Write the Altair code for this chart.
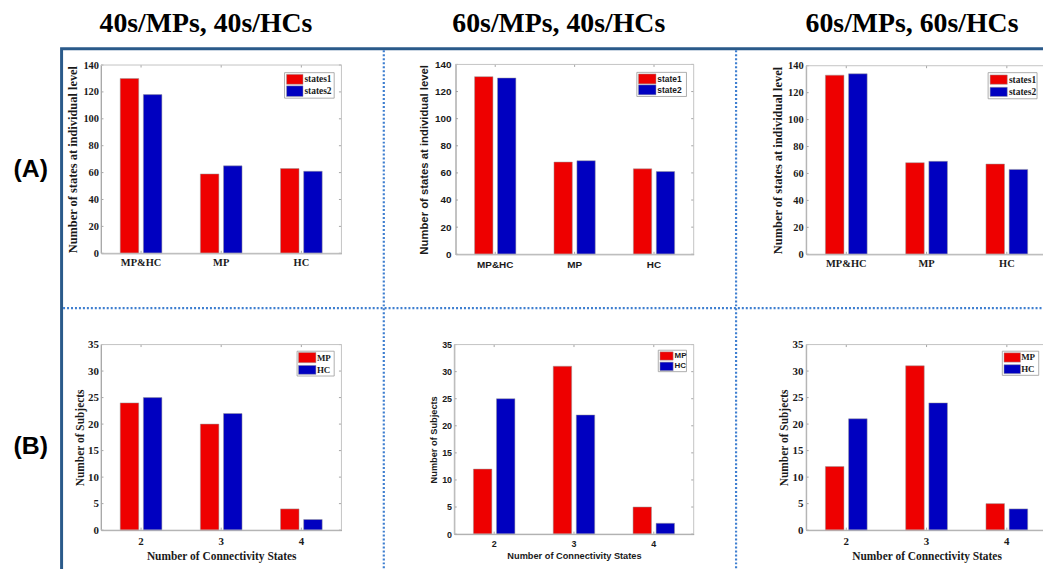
import altair as alt
import pandas as pd

# ---------------- data ----------------
cats_A = ["MP&HC", "MP", "HC"]
cats_B = ["2", "3", "4"]

a1_names = ["states1", "states2"]
a1_s1 = [130, 59, 63]
a1_s2 = [118, 65, 61]

a2_names = ["state1", "state2"]
a2_s1 = [131, 68, 63]
a2_s2 = [130, 69, 61]

a3_names = ["states1", "states2"]
a3_s1 = [133, 68, 67]
a3_s2 = [134, 69, 63]

b_names = ["MP", "HC"]
b1_mp = [24, 20, 4]
b1_hc = [25, 22, 2]
b2_mp = [12, 31, 5]
b2_hc = [25, 22, 2]
b3_mp = [12, 31, 5]
b3_hc = [21, 24, 4]

col_titles = ["40s/MPs, 40s/HCs", "60s/MPs, 40s/HCs", "60s/MPs, 60s/HCs"]
row_labels = ["(A)", "(B)"]
ytitle_A = "Number of states at individual level"
ytitle_B = "Number of Subjects"
xtitle_B = "Number of Connectivity States"

# ---------------- layout / style ----------------
W, H = 1043, 561
OX, OY = 8, 8


def cx(v):
    return v - OX


def cy(v):
    return v - OY


SERIF = "Liberation Serif"
SANS = "Liberation Sans"
RED = "#EE0000"
BLUE = "#0000C0"
FRAME = "#2A5A8A"
DOTS = "#3F7FD0"
AXC = "#8f8f8f"
BOXC = "#c4c4c4"
TXT = "#1a1a1a"
TICK = 2.5

panels = [
    dict(cats=cats_A, names=a1_names, vals=[a1_s1, a1_s2], L=101.7, R=344, T=63.3, B=253,
         ymax=140, ystep=20, font=SERIF, ytitle=ytitle_A, xtitle="", fs_tick=10.5, fs_title=12.5,
         lpad=2.5, tpad=3, xlpad=4, xtpad=3, fs_leg=9.5,
         leg=dict(box=(286.7, 71, 336.7, 96.7), sx=(288.7, 305.3), sy=[(72.7, 82.7), (84.3, 95)], tx=306.7)),
    dict(cats=cats_A, names=a2_names, vals=[a2_s1, a2_s2], L=459, R=699, T=62.7, B=254,
         ymax=140, ystep=20, font=SANS, ytitle=ytitle_A, xtitle="", fs_tick=10, fs_title=11.4,
         lpad=4.5, tpad=5, xlpad=5, xtpad=3, fs_leg=8.5,
         leg=dict(box=(641.7, 70.7, 691.7, 95), sx=(643.3, 661), sy=[(72.3, 82.3), (83.3, 93.3)], tx=662.3)),
    dict(cats=cats_A, names=a3_names, vals=[a3_s1, a3_s2], L=812.3, R=1055, T=64, B=254,
         ymax=140, ystep=20, font=SERIF, ytitle=ytitle_A, xtitle="", fs_tick=10.5, fs_title=12.5,
         lpad=3, tpad=3, xlpad=4, xtpad=3, fs_leg=9.5,
         leg=dict(box=(995.7, 71, 1045, 97.3), sx=(997.7, 1015), sy=[(73.3, 82.7), (85.7, 95)], tx=1016.7)),
    dict(cats=cats_B, names=b_names, vals=[b1_mp, b1_hc], L=101.7, R=344, T=345, B=532,
         ymax=35, ystep=5, font=SERIF, ytitle=ytitle_B, xtitle=xtitle_B, fs_tick=11, fs_title=11.5,
         lpad=2.5, tpad=2, xlpad=5.5, xtpad=4, fs_leg=9,
         leg=dict(box=(299.3, 351.7, 336.7, 376.7), sx=(300.7, 318.3), sy=[(353, 363.3), (366, 375)], tx=319.3)),
    dict(cats=cats_B, names=b_names, vals=[b2_mp, b2_hc], L=457.7, R=699, T=345, B=536,
         ymax=35, ystep=5, font=SANS, ytitle=ytitle_B, xtitle=xtitle_B, fs_tick=9, fs_title=9.3,
         lpad=2.7, tpad=3.5, xlpad=5, xtpad=4, fs_leg=8,
         leg=dict(box=(663.3, 350.7, 691.7, 372.3), sx=(665, 678.3), sy=[(352.3, 360.7), (362.7, 371.3)], tx=679.7)),
    dict(cats=cats_B, names=b_names, vals=[b3_mp, b3_hc], L=812.3, R=1055, T=345, B=532,
         ymax=35, ystep=5, font=SERIF, ytitle=ytitle_B, xtitle=xtitle_B, fs_tick=11, fs_title=11.5,
         lpad=3.2, tpad=2.5, xlpad=5.5, xtpad=4, fs_leg=9,
         leg=dict(box=(1010, 351.7, 1046.7, 376), sx=(1011.7, 1028.3), sy=[(353.3, 362.7), (365.3, 374.3)], tx=1029)),
]


def bar_panel(p):
    rows = []
    for name, vals in zip(p["names"], p["vals"]):
        for c, v in zip(p["cats"], vals):
            rows.append({"cat": c, "series": name, "value": v})
    df = pd.DataFrame(rows)
    yticks = list(range(0, p["ymax"] + 1, p["ystep"]))
    font = p["font"]
    xscale = alt.Scale(range=[cx(p["L"]), cx(p["R"])], paddingInner=0.48, paddingOuter=0.24)
    yscale = alt.Scale(domain=[0, p["ymax"]], nice=False, range=[cy(p["B"]), cy(p["T"])])
    xaxis = alt.Axis(
        orient="bottom", offset=cy(p["B"]) - H, labelAngle=0, labelFont=font,
        labelFontSize=p["fs_tick"], labelFontWeight="bold", labelColor=TXT,
        labelPadding=p["xlpad"], ticks=False, grid=False, domainColor=AXC, domainWidth=1,
        title=p["xtitle"], titleFont=font, titleFontSize=p["fs_title"], titleFontWeight="bold",
        titleColor=TXT, titlePadding=p["xtpad"],
    )
    yaxis = alt.Axis(
        orient="left", offset=-cx(p["L"]), values=yticks, labelFont=font,
        labelFontSize=p["fs_tick"], labelFontWeight="bold", labelColor=TXT,
        labelPadding=p["lpad"], ticks=False, grid=False, domainColor=AXC, domainWidth=1,
        title=p["ytitle"], titleFont=font, titleFontSize=p["fs_title"], titleFontWeight="bold",
        titleColor=TXT, titlePadding=p["tpad"],
    )
    bars = alt.Chart(df).mark_bar(stroke="#9a9a9a", strokeWidth=0.5).encode(
        x=alt.X("cat:N", sort=p["cats"], axis=xaxis, scale=xscale),
        xOffset=alt.XOffset("series:N", sort=p["names"], scale=alt.Scale(paddingInner=0.2)),
        y=alt.Y("value:Q", axis=yaxis, scale=yscale),
        color=alt.Color("series:N", scale=alt.Scale(domain=p["names"], range=[RED, BLUE]), legend=None),
    )
    # inward MATLAB-style ticks on all four sides, placed through the panel scales
    tdf = pd.DataFrame({"v": yticks})
    cdf = pd.DataFrame({"cat": p["cats"]})
    ytl = alt.Chart(tdf).mark_rule(color=AXC, strokeWidth=0.8).encode(
        y=alt.Y("v:Q", scale=yscale, axis=None),
        x=alt.value(cx(p["L"])), x2=alt.value(cx(p["L"]) + TICK))
    ytr = alt.Chart(tdf).mark_rule(color=AXC, strokeWidth=0.8).encode(
        y=alt.Y("v:Q", scale=yscale, axis=None),
        x=alt.value(cx(p["R"]) - TICK), x2=alt.value(cx(p["R"])))
    xtb = alt.Chart(cdf).mark_rule(color=AXC, strokeWidth=0.8).encode(
        x=alt.X("cat:N", sort=p["cats"], scale=xscale, axis=None),
        y=alt.value(cy(p["B"]) - TICK), y2=alt.value(cy(p["B"])))
    xtt = alt.Chart(cdf).mark_rule(color=AXC, strokeWidth=0.8).encode(
        x=alt.X("cat:N", sort=p["cats"], scale=xscale, axis=None),
        y=alt.value(cy(p["T"])), y2=alt.value(cy(p["T"]) + TICK))
    return alt.layer(bars, ytl, ytr, xtb, xtt).resolve_axis(x="independent", y="independent")


def rect(x0, y0, x1, y1, **kw):
    return alt.Chart().mark_rect(**kw).encode(
        x=alt.value(cx(x0)), x2=alt.value(cx(x1)), y=alt.value(cy(y0)), y2=alt.value(cy(y1))
    )


def rule(x0, y0, x1, y1, **kw):
    return alt.Chart().mark_rule(**kw).encode(
        x=alt.value(cx(x0)), x2=alt.value(cx(x1)), y=alt.value(cy(y0)), y2=alt.value(cy(y1))
    )


def text(s, x, y, **kw):
    return alt.Chart().mark_text(text=s, **kw).encode(x=alt.value(cx(x)), y=alt.value(cy(y)))


layers = []

# frame
layers.append(rect(62, 47, 1070, 590, fill="transparent", stroke=FRAME, strokeWidth=3))
for xv in [386.7, 741.7]:
    layers.append(rule(xv, 48.5, xv, 590, stroke=DOTS, strokeWidth=2.2, strokeDash=[2, 2]))
layers.append(rule(63.5, 308.3, 1070, 308.3, stroke=DOTS, strokeWidth=2.2, strokeDash=[2, 2]))

for p in panels:
    layers.append(bar_panel(p))
    layers.append(rect(p["L"], p["T"], p["R"], p["B"], fill="transparent", stroke=BOXC, strokeWidth=1))
    lg = p["leg"]
    bx = lg["box"]
    layers.append(rect(bx[0], bx[1], bx[2], bx[3], fill="white", stroke="#9a9a9a", strokeWidth=0.8))
    for (y0, y1), col, name in zip(lg["sy"], [RED, BLUE], p["names"]):
        layers.append(rect(lg["sx"][0], y0, lg["sx"][1], y1, fill=col, stroke="#9a9a9a", strokeWidth=0.5))
        layers.append(text(name, lg["tx"], (y0 + y1) / 2, font=p["font"], fontSize=p["fs_leg"],
                           fontWeight="bold", color=TXT, align="left", baseline="middle"))

# column titles
for t, xc in zip(col_titles, [207.5, 563, 919]):
    layers.append(text(t, xc, 30.5, font=SERIF, fontSize=28, fontWeight="bold", color="black",
                       align="center", baseline="alphabetic"))

# row labels
for t, yc in zip(row_labels, [168, 447]):
    layers.append(text(t, 31, yc, font=SANS, fontSize=25, fontWeight="bold", color="black",
                       align="center", baseline="middle"))

chart = (
    alt.layer(*layers)
    .resolve_scale(x="independent", y="independent", xOffset="independent", color="independent")
    .properties(width=W, height=H, autosize=alt.AutoSizeParams(type="none"), padding=0,
                background="white")
    .configure_view(stroke=None)
)

chart.save("out.html", embed_options={"renderer": "svg", "actions": False})
